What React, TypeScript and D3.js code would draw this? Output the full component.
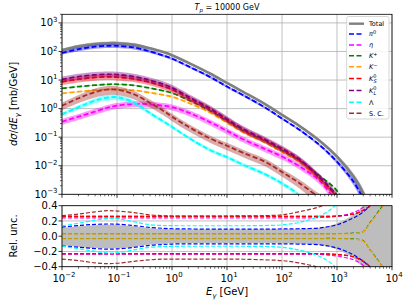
import * as d3 from "d3";

// photon energies (GeV) shared by every curve
const energies = [0.01, 0.02, 0.04, 0.07, 0.1, 0.2, 0.4, 0.7, 1, 2, 5, 10, 20, 50, 100, 200, 500, 1000, 2000, 3000, 4000, 5000, 7000, 10000];

// dσ/dE (mb/GeV), null = below the plot
const totalValues = [112, 151, 182, 195, 195, 174, 129, 95, 74, 40, 16.6, 7.9, 3.8, 1.41, 0.6, 0.26, 0.071, 0.021, 0.0042, 0.0011, 0.0002, null, null, null];
const pi0Values = [89, 120, 148, 158, 158, 138, 100, 72, 56, 30, 12.6, 5.9, 2.9, 1.07, 0.45, 0.19, 0.05, 0.0138, 0.00275, 0.0007, null, null, null, null];
const etaValues = [0.35, 0.52, 0.79, 1.1, 1.26, 1.45, 1.41, 1.26, 1.12, 0.72, 0.33, 0.166, 0.083, 0.038, 0.021, 0.01, 0.0028, 0.0005, null, null, null, null, null, null];
const kPlusValues = [5.1, 5.9, 6.6, 7.1, 7.1, 6.5, 5.2, 4.2, 3.5, 2.0, 0.83, 0.36, 0.166, 0.071, 0.034, 0.0158, 0.0042, 0.00132, 0.0001, null, null, null, null, null];
const kMinusValues = [3.4, 3.9, 4.4, 4.7, 4.7, 4.4, 3.6, 3.0, 2.6, 1.58, 0.71, 0.32, 0.145, 0.063, 0.03, 0.0138, 0.0032, 0.0008, null, null, null, null, null, null];
const kShortValues = [8.7, 10.7, 12.3, 12.9, 12.6, 11.0, 8.3, 6.0, 4.7, 2.3, 0.93, 0.4, 0.178, 0.076, 0.037, 0.0166, 0.0035, 0.00083, null, null, null, null, null, null];
const kLongValues = [10.5, 13.2, 15.1, 15.8, 15.5, 13.2, 9.8, 7.1, 5.4, 2.6, 1.0, 0.43, 0.19, 0.081, 0.04, 0.0178, 0.0038, 0.00093, null, null, null, null, null, null];
const lambdaValues = [0.63, 1.12, 1.9, 2.45, 2.5, 1.66, 0.69, 0.355, 0.23, 0.095, 0.035, 0.02, 0.0107, 0.005, 0.0024, 0.00095, 0.0001, null, null, null, null, null, null, null];
const scValues = [1.26, 2.3, 3.8, 4.7, 4.6, 3.2, 1.58, 0.83, 0.52, 0.23, 0.089, 0.05, 0.028, 0.0135, 0.006, 0.0026, 0.0007, null, null, null, null, null, null, null];

// relative uncertainties (upper / lower)
const totalHi = [0.11, 0.13, 0.145, 0.15, 0.148, 0.13, 0.105, 0.095, 0.09, 0.088, 0.088, 0.088, 0.088, 0.088, 0.09, 0.095, 0.11, 0.17, 0.28, 0.4, 0.5, 0.6, 0.8, 1.0];
const totalLo = [-0.12, -0.14, -0.155, -0.16, -0.158, -0.14, -0.11, -0.098, -0.092, -0.09, -0.09, -0.09, -0.09, -0.09, -0.092, -0.098, -0.115, -0.175, -0.29, -0.41, -0.5, -0.6, -0.8, -1.0];
const pi0Hi = [0.12, 0.14, 0.155, 0.16, 0.158, 0.14, 0.115, 0.103, 0.098, 0.095, 0.093, 0.093, 0.093, 0.093, 0.095, 0.098, 0.11, 0.15, 0.24, 0.32, 0.4, 0.5, 0.7, 0.9];
const pi0Lo = [-0.125, -0.145, -0.162, -0.17, -0.167, -0.148, -0.12, -0.108, -0.103, -0.1, -0.1, -0.1, -0.1, -0.1, -0.1, -0.103, -0.115, -0.155, -0.245, -0.33, -0.41, -0.5, -0.7, -0.9];
const etaHi = [0.24, 0.24, 0.24, 0.24, 0.24, 0.24, 0.24, 0.24, 0.24, 0.24, 0.24, 0.24, 0.24, 0.24, 0.24, 0.24, 0.245, 0.26, 0.31, 0.38, 0.45, 0.55, 0.7, 0.9];
const etaLo = [-0.235, -0.235, -0.235, -0.235, -0.235, -0.235, -0.235, -0.235, -0.235, -0.235, -0.235, -0.235, -0.235, -0.235, -0.235, -0.235, -0.24, -0.26, -0.31, -0.38, -0.45, -0.55, -0.7, -0.9];
const kPlusHi = [0.035, 0.035, 0.035, 0.035, 0.035, 0.035, 0.035, 0.035, 0.035, 0.035, 0.035, 0.035, 0.035, 0.035, 0.035, 0.035, 0.035, 0.035, 0.04, 0.06, 0.18, 0.27, 0.42, 0.6];
const kPlusLo = [-0.03, -0.03, -0.03, -0.03, -0.03, -0.03, -0.03, -0.03, -0.03, -0.03, -0.03, -0.03, -0.03, -0.03, -0.03, -0.03, -0.03, -0.03, -0.035, -0.06, -0.18, -0.27, -0.42, -0.6];
const kMinusHi = [0.03, 0.03, 0.03, 0.03, 0.03, 0.03, 0.03, 0.03, 0.03, 0.03, 0.03, 0.03, 0.03, 0.03, 0.03, 0.03, 0.03, 0.03, 0.035, 0.06, 0.17, 0.26, 0.4, 0.6];
const kMinusLo = [-0.035, -0.035, -0.035, -0.035, -0.035, -0.035, -0.035, -0.035, -0.035, -0.035, -0.035, -0.035, -0.035, -0.035, -0.035, -0.035, -0.035, -0.035, -0.04, -0.065, -0.18, -0.28, -0.42, -0.6];
const kShortHi = [0.26, 0.26, 0.26, 0.26, 0.26, 0.26, 0.26, 0.26, 0.26, 0.26, 0.26, 0.26, 0.26, 0.26, 0.26, 0.26, 0.26, 0.265, 0.29, 0.34, 0.4, 0.48, 0.6, 0.8];
const kShortLo = [-0.23, -0.23, -0.23, -0.23, -0.23, -0.23, -0.23, -0.23, -0.23, -0.23, -0.23, -0.23, -0.23, -0.23, -0.23, -0.23, -0.23, -0.24, -0.27, -0.33, -0.4, -0.48, -0.6, -0.8];
const kLongHi = kShortHi;
const kLongLo = kShortLo;
const lambdaHi = [0.135, 0.17, 0.21, 0.235, 0.23, 0.19, 0.15, 0.14, 0.138, 0.137, 0.137, 0.137, 0.137, 0.14, 0.148, 0.18, 0.27, 0.42, 0.7, 0.9, 1, 1, 1, 1];
const lambdaLo = [-0.13, -0.165, -0.2, -0.22, -0.218, -0.18, -0.145, -0.135, -0.133, -0.132, -0.132, -0.132, -0.132, -0.135, -0.145, -0.18, -0.27, -0.42, -0.7, -0.9, -1, -1, -1, -1];
const scHi = [0.27, 0.29, 0.32, 0.335, 0.33, 0.31, 0.28, 0.268, 0.265, 0.265, 0.265, 0.265, 0.266, 0.27, 0.28, 0.32, 0.39, 0.5, 0.8, 1, 1, 1, 1, 1];
const scLo = [-0.3, -0.32, -0.35, -0.36, -0.355, -0.33, -0.31, -0.3, -0.3, -0.3, -0.3, -0.3, -0.302, -0.31, -0.32, -0.35, -0.42, -0.55, -0.8, -1, -1, -1, -1, -1];

const W = 407;
const H = 305;
const left = 62;
const right = 392;
const topY0 = 14.3;
const topY1 = 194.3;
const botY0 = 205.7;
const botY1 = 266.7;
const font = "DejaVu Sans, sans-serif";

const x = d3.scaleLog().domain([1e-2, 1e4]).range([left, right]);
const yTop = d3.scaleLog().domain([1e-3, 2e3]).range([topY1, topY0]);
const yBot = d3.scaleLinear().domain([-0.4, 0.4]).range([botY1, botY0]);

type Pt = { e: number; v: number | null; hi: number; lo: number };

// legend / top-panel order
const series = [
  { key: "pi0", color: "#0000ff", values: pi0Values, hi: pi0Hi, lo: pi0Lo },
  { key: "eta", color: "#ff00ff", values: etaValues, hi: etaHi, lo: etaLo },
  { key: "kplus", color: "#008000", values: kPlusValues, hi: kPlusHi, lo: kPlusLo },
  { key: "kminus", color: "#ffa500", values: kMinusValues, hi: kMinusHi, lo: kMinusLo },
  { key: "ks", color: "#ff0000", values: kShortValues, hi: kShortHi, lo: kShortLo },
  { key: "kl", color: "#800080", values: kLongValues, hi: kLongHi, lo: kLongLo },
  { key: "lambda", color: "#00ffff", values: lambdaValues, hi: lambdaHi, lo: lambdaLo },
  { key: "sc", color: "#a52a2a", values: scValues, hi: scHi, lo: scLo },
];
// in the ratio panel K0_L sits under K0_S
const ratioOrder = ["pi0", "eta", "kplus", "kminus", "kl", "ks", "lambda", "sc"];

function points(values: (number | null)[], hi: number[], lo: number[]): Pt[] {
  return energies.map((e, i) => ({ e, v: values[i], hi: hi[i], lo: lo[i] }));
}

const curve = d3.curveCatmullRom.alpha(0.5);
const valueLine = d3
  .line<Pt>()
  .defined((d) => d.v != null)
  .x((d) => x(d.e))
  .y((d) => yTop(d.v as number))
  .curve(curve);
const valueBand = d3
  .area<Pt>()
  .defined((d) => d.v != null)
  .x((d) => x(d.e))
  .y0((d) => yTop((d.v as number) * (1 + d.lo)))
  .y1((d) => yTop((d.v as number) * (1 + d.hi)))
  .curve(curve);
const hiLine = d3.line<Pt>().x((d) => x(d.e)).y((d) => yBot(d.hi)).curve(curve);
const loLine = d3.line<Pt>().x((d) => x(d.e)).y((d) => yBot(d.lo)).curve(curve);
const uncBand = d3
  .area<Pt>()
  .x((d) => x(d.e))
  .y0((d) => yBot(d.lo))
  .y1((d) => yBot(d.hi))
  .curve(curve);

const decades = d3.range(-2, 5);
const minorX = d3.range(-2, 4).flatMap((p) => d3.range(2, 10).map((k) => k * 10 ** p));
const minorY = d3.range(-3, 4).flatMap((p) => d3.range(2, 10).map((k) => k * 10 ** p)).filter((v) => v <= 2e3);
const yDecades = d3.range(-3, 4);
const relTicks = [-0.4, -0.2, 0, 0.2, 0.4];

function Pow({ x: px, y: py, exp, anchor }: { x: number; y: number; exp: number; anchor: "middle" | "end" }) {
  const s = exp < 0 ? `\u2212${-exp}` : `${exp}`;
  return (
    <text x={px} y={py} textAnchor={anchor} fontSize={10} fontFamily={font} fill="#000">
      10
      <tspan dy={-4.5} fontSize={7}>
        {s}
      </tspan>
    </text>
  );
}

const legendItems: { color: string; solid?: boolean; label: JSX.Element; y: number }[] = [
  { color: "#808080", solid: true, label: <tspan>Total</tspan>, y: 23.7 },
  { color: "#0000ff", label: <><tspan fontStyle="italic">π</tspan><tspan dy={-2.5} fontSize={5}>0</tspan></>, y: 34 },
  { color: "#ff00ff", label: <tspan fontStyle="italic">η</tspan>, y: 45 },
  { color: "#008000", label: <><tspan fontStyle="italic">K</tspan><tspan dy={-2.5} fontSize={5}>+</tspan></>, y: 55.7 },
  { color: "#ffa500", label: <><tspan fontStyle="italic">K</tspan><tspan dy={-2.5} fontSize={5}>−</tspan></>, y: 66.7 },
  { color: "#ff0000", label: <><tspan fontStyle="italic">K</tspan><tspan dy={-2.5} fontSize={5}>0</tspan><tspan dx={-3} dy={5} fontSize={5} fontStyle="italic">S</tspan></>, y: 78.5 },
  { color: "#800080", label: <><tspan fontStyle="italic">K</tspan><tspan dy={-2.5} fontSize={5}>0</tspan><tspan dx={-3} dy={5} fontSize={5} fontStyle="italic">L</tspan></>, y: 90.5 },
  { color: "#00ffff", label: <tspan>Λ</tspan>, y: 102.3 },
  { color: "#a52a2a", label: <tspan>S. C.</tspan>, y: 113.3 },
];

export default function App() {
  const totalPts = points(totalValues, totalHi, totalLo);
  return (
    <svg width={W} height={H} style={{ position: "absolute", left: 0, top: 0, background: "#fff" }} fontFamily={font}>
      <defs>
        <clipPath id="clipTop">
          <rect x={left} y={topY0} width={right - left} height={topY1 - topY0} />
        </clipPath>
        <clipPath id="clipBot">
          <rect x={left} y={botY0} width={right - left} height={botY1 - botY0} />
        </clipPath>
      </defs>

      {/* grids */}
      <g stroke="#b0b0b0" strokeWidth={0.8}>
        {decades.map((p) => (
          <line key={`gx${p}`} x1={x(10 ** p)} x2={x(10 ** p)} y1={topY0} y2={topY1} />
        ))}
        {yDecades.map((p) => (
          <line key={`gy${p}`} x1={left} x2={right} y1={yTop(10 ** p)} y2={yTop(10 ** p)} />
        ))}
        {decades.map((p) => (
          <line key={`bgx${p}`} x1={x(10 ** p)} x2={x(10 ** p)} y1={botY0} y2={botY1} />
        ))}
        {relTicks.map((t) => (
          <line key={`bgy${t}`} x1={left} x2={right} y1={yBot(t)} y2={yBot(t)} />
        ))}
      </g>

      {/* top panel curves */}
      <g clipPath="url(#clipTop)">
        <path d={valueBand(totalPts) ?? ""} fill="#808080" fillOpacity={0.45} />
        <path d={valueLine(totalPts) ?? ""} fill="none" stroke="#808080" strokeWidth={2.6} />
        {series.map((s) => {
          const pts = points(s.values, s.hi, s.lo);
          return (
            <g key={s.key}>
              <path d={valueBand(pts) ?? ""} fill={s.color} fillOpacity={0.4} />
              <path d={valueLine(pts) ?? ""} fill="none" stroke={s.color} strokeWidth={1.8} strokeDasharray="5,2.5" />
            </g>
          );
        })}
      </g>

      {/* bottom panel */}
      <g clipPath="url(#clipBot)">
        <path d={uncBand(totalPts) ?? ""} fill="#bdbdbd" />
        {ratioOrder.map((k) => {
          const s = series.find((d) => d.key === k)!;
          const pts = points(s.values, s.hi, s.lo);
          return (
            <g key={s.key} fill="none" stroke={s.color} strokeWidth={1.2} strokeDasharray="4,2">
              <path d={hiLine(pts) ?? ""} />
              <path d={loLine(pts) ?? ""} />
            </g>
          );
        })}
      </g>

      {/* frames */}
      <rect x={left} y={topY0} width={right - left} height={topY1 - topY0} fill="none" stroke="#000" strokeWidth={0.8} />
      <rect x={left} y={botY0} width={right - left} height={botY1 - botY0} fill="none" stroke="#000" strokeWidth={0.8} />

      {/* ticks */}
      <g stroke="#000" strokeWidth={0.8}>
        {decades.map((p) => (
          <g key={`xt${p}`}>
            <line x1={x(10 ** p)} x2={x(10 ** p)} y1={topY1} y2={topY1 + 3.5} />
            <line x1={x(10 ** p)} x2={x(10 ** p)} y1={botY1} y2={botY1 + 3.5} />
          </g>
        ))}
        {minorX.map((v) => (
          <g key={`xm${v}`}>
            <line x1={x(v)} x2={x(v)} y1={topY1} y2={topY1 + 2} strokeWidth={0.6} />
            <line x1={x(v)} x2={x(v)} y1={botY1} y2={botY1 + 2} strokeWidth={0.6} />
          </g>
        ))}
        {yDecades.map((p) => (
          <line key={`yt${p}`} x1={left - 3.5} x2={left} y1={yTop(10 ** p)} y2={yTop(10 ** p)} />
        ))}
        {minorY.map((v) => (
          <line key={`ym${v}`} x1={left - 2} x2={left} y1={yTop(v)} y2={yTop(v)} strokeWidth={0.6} />
        ))}
        {relTicks.map((t) => (
          <line key={`rt${t}`} x1={left - 3.5} x2={left} y1={yBot(t)} y2={yBot(t)} />
        ))}
      </g>

      {/* tick labels */}
      {decades.map((p) => (
        <Pow key={`xl${p}`} x={x(10 ** p) + 2} y={281.5} exp={p} anchor="middle" />
      ))}
      {yDecades.map((p) => (
        <Pow key={`yl${p}`} x={57.5} y={yTop(10 ** p) + 3.6} exp={p} anchor="end" />
      ))}
      {relTicks.map((t) => (
        <text key={`rl${t}`} x={57.5} y={yBot(t) + 3.6} textAnchor="end" fontSize={10} fill="#000">
          {t < 0 ? `\u2212${(-t).toFixed(1)}` : t.toFixed(1)}
        </text>
      ))}

      {/* axis labels */}
      <text transform="translate(17,104) rotate(-90)" textAnchor="middle" fontSize={10} fill="#000">
        <tspan fontStyle="italic">dσ</tspan>/<tspan fontStyle="italic">dE</tspan>
        <tspan dy={2.5} fontSize={7} fontStyle="italic">γ</tspan>
        <tspan dy={-2.5}> [mb/GeV]</tspan>
      </text>
      <text transform="translate(17,236) rotate(-90)" textAnchor="middle" fontSize={10} fill="#000">
        Rel. unc.
      </text>
      <text x={227} y={295} textAnchor="middle" fontSize={10} fill="#000">
        <tspan fontStyle="italic">E</tspan>
        <tspan dy={2.5} fontSize={7} fontStyle="italic">γ</tspan>
        <tspan dy={-2.5}> [GeV]</tspan>
      </text>

      {/* title */}
      <text x={227} y={10} textAnchor="middle" fontSize={8} fill="#000">
        <tspan fontStyle="italic">T</tspan>
        <tspan dy={1.5} fontSize={5.5} fontStyle="italic">p</tspan>
        <tspan dy={-1.5}> = 10000 GeV</tspan>
      </text>

      {/* legend */}
      <g>
        <rect x={346.7} y={16.5} width={42.3} height={102.5} rx={2} fill="#fff" fillOpacity={0.85} stroke="#cccccc" strokeWidth={0.8} />
        {legendItems.map((it, i) => (
          <g key={i}>
            <line
              x1={349}
              x2={364}
              y1={it.y}
              y2={it.y}
              stroke={it.color}
              strokeWidth={it.solid ? 2.4 : 1.6}
              strokeDasharray={it.solid ? undefined : "5,2.5"}
            />
            <text x={369} y={it.y + 2.4} fontSize={6.5} fill="#000">
              {it.label}
            </text>
          </g>
        ))}
      </g>
    </svg>
  );
}
